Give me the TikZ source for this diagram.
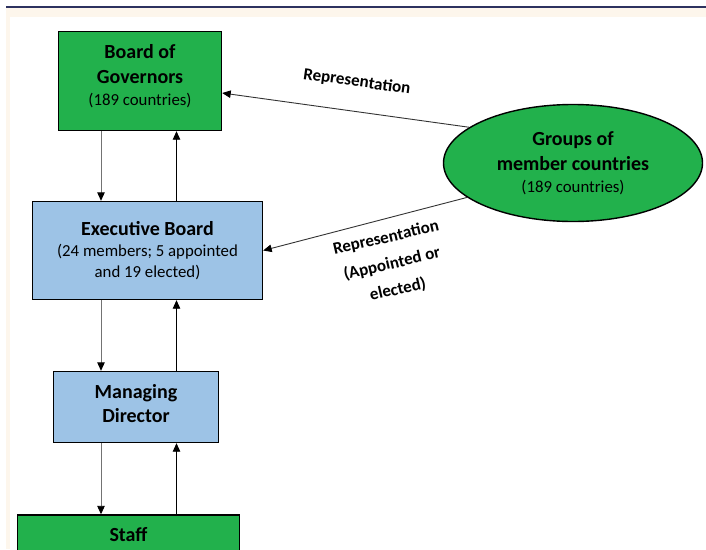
\documentclass[tikz,border=0pt]{standalone}
\usepackage{fontspec}
\setmainfont{Carlito}
\usetikzlibrary{arrows.meta,shapes.geometric,calc}
\definecolor{boxgreen}{RGB}{34,177,76}
\definecolor{boxblue}{RGB}{157,195,230}
\definecolor{framecream}{RGB}{253,246,236}
\definecolor{framenavy}{RGB}{45,50,95}
\newcommand{\tb}[1]{{\fontsize{20}{25}\selectfont\bfseries #1}}

\begin{document}
\begin{tikzpicture}[x=1pt,y=-1pt,
 font=\fontsize{16.8}{21}\selectfont,
 bx/.style={draw=black,line width=1.4pt,align=center,inner sep=0pt},
 g/.style={bx,fill=boxgreen},
 bl/.style={bx,fill=boxblue},
 dn/.style={draw=black!55,line width=0.9pt,-{Triangle[length=8.5pt,width=7.5pt,black]}},
 up/.style={draw=black,line width=0.9pt,-{Triangle[length=8.5pt,width=7.5pt]}},
 rep/.style={draw=black!80,line width=0.9pt,-{Triangle[length=8.5pt,width=7.5pt,black]}},
 lbl/.style={font=\fontsize{17}{23.5}\selectfont\bfseries,align=center}]
\useasboundingbox (0,0) rectangle (706,549);
\clip (0,0) rectangle (706,549);
% page frame
\fill[framecream] (6,8) rectangle (706,549);
\fill[white] (10,17) rectangle (706,549);
\draw[framenavy,line width=2pt] (6,6.5) -- (706,6.5);
% boxes
\node[g,minimum width=163pt,minimum height=99pt,text depth=12pt] (gov) at (140,81) {\tb{Board of}\\[4pt]\tb{Governors}\\[1pt](189 countries)};
\node[bl,minimum width=230pt,minimum height=98pt] (exec) at (147.5,250.5) {\tb{Executive Board}\\(24 members; 5 appointed\\and 19 elected)};
\node[bl,minimum width=165pt,minimum height=71pt,text depth=8pt] (md) at (136,407) {\tb{Managing}\\[3pt]\tb{Director}};
\node[g,minimum width=222pt,minimum height=40pt] (staff) at (128.5,535) {\tb{Staff}};
\node[ellipse,draw=black,line width=1.4pt,fill=boxgreen,minimum width=259pt,minimum height=117pt,inner sep=0pt,align=center] (grp) at (573,163) {\tb{Groups of}\\[4pt]\tb{member countries}\\[1pt](189 countries)};
% vertical links
\coordinate (dx) at (101,0);
\coordinate (ux) at (176.5,0);
\foreach \a/\b in {gov/exec,exec/md,md/staff}{
 \draw[dn] (\a.south -| dx) -- (\b.north -| dx);
 \draw[up] (\b.north -| ux) -- (\a.south -| ux);
}
% representation
\draw[rep] (grp.161) -- ($(gov.east)+(0,12)$);
\draw[rep] (grp.198) -- (exec.east);
\node[lbl,rotate=-8] (rep1) at (357,82) {Representation};
\node[lbl,rotate=13] (rep2) at (392,264) {Representation\\[3pt](Appointed or\\[3pt]elected)};
\end{tikzpicture}
\end{document}
